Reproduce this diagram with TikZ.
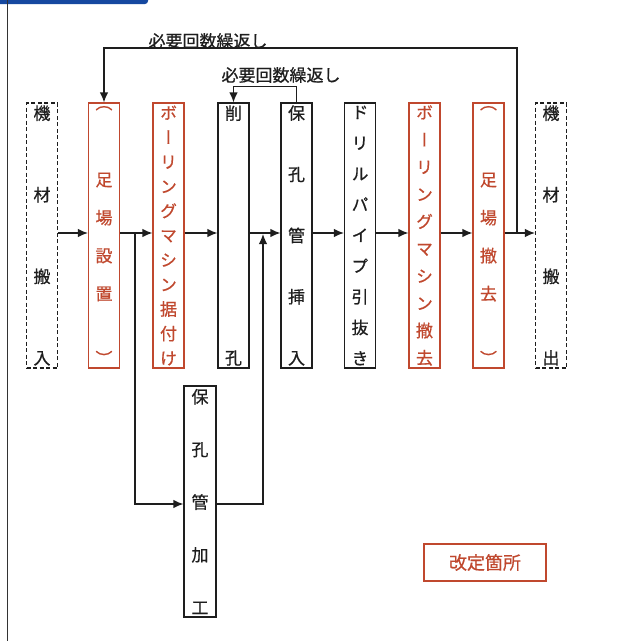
\documentclass[tikz,border=0pt]{standalone}
\usepackage{fontspec}
\setmainfont[FakeBold=0.6]{Noto Sans CJK JP}
\newfontfamily\vjp[RawFeature={+vert},FakeBold=0.6]{Noto Sans CJK JP}
\usetikzlibrary{arrows.meta}
\definecolor{rd}{RGB}{192,72,46}
\definecolor{ink}{RGB}{30,30,30}
\definecolor{barblue}{RGB}{22,72,160}
\newcommand\VF{\par\vfill}
\newcommand\vcol[2]{\parbox[c][#1][s]{28pt}{\centering\fontsize{17}{17}\selectfont\vjp #2}}
\tikzset{
  proc/.style={draw=ink, line width=1.2pt, minimum width=31pt, minimum height=265pt, inner sep=0pt, text=ink},
  rproc/.style={proc, draw=rd, text=rd},
  dproc/.style={proc, dash pattern=on 4pt off 2.5pt},
  flow/.style={draw=ink, line width=1.3pt, -{Latex[length=10pt,width=8.5pt]}},
  lbl/.style={text=ink, inner sep=0pt, font=\fontsize{17}{17}\selectfont},
}
\begin{document}
\begin{tikzpicture}[x=1pt,y=-1pt]
\useasboundingbox (0,0) rectangle (620,641);
\fill[white] (0,0) rectangle (620,641);
% header bar and left rule
\fill[barblue, rounded corners=3pt] (-6,-6) rectangle (148,4);
\draw[gray!40!black, line width=1.4pt] (7.5,0) -- (7.5,641);

% main process boxes
\node[dproc] (in) at (42,235.5) {\vcol{259pt}{機\VF 材\VF 搬\VF 入}};
\node[rproc] (ss) at (104,235.5) {\vcol{259pt}{（\par\vspace{\stretch{1.25}}足\par\vspace{21pt}場\par\vspace{21pt}設\par\vspace{21pt}置\par\vspace{\stretch{1}}）}};
\node[rproc] (bs) at (168.5,235.5) {\vcol{259pt}{ボ\VF ー\VF リ\VF ン\VF グ\VF マ\VF シ\VF ン\VF 据\VF 付\VF け}};
\node[proc] (sk) at (233.5,235.5) {\vcol{259pt}{削\VF 孔}};
\node[proc] (hi) at (296.5,235.5) {\vcol{259pt}{保\VF 孔\VF 管\VF 挿\VF 入}};
\node[proc] (dp) at (360,235.5) {\vcol{259pt}{ド\VF リ\VF ル\VF パ\VF イ\VF プ\VF 引\VF 抜\VF き}};
\node[rproc] (bt) at (424.5,235.5) {\vcol{259pt}{ボ\VF ー\VF リ\VF ン\VF グ\VF マ\VF シ\VF ン\VF 撤\VF 去}};
\node[rproc] (st) at (488.5,235.5) {\vcol{259pt}{（\par\vspace{\stretch{1.25}}足\par\vspace{21pt}場\par\vspace{21pt}撤\par\vspace{21pt}去\par\vspace{\stretch{1}}）}};
\node[dproc] (out) at (551,235.5) {\vcol{259pt}{機\VF 材\VF 搬\VF 出}};
\node[proc, minimum height=231pt, minimum width=32pt] (hk) at (200,501.5) {\vcol{225pt}{保\VF 孔\VF 管\VF 加\VF 工}};

% junction points on the main flow
\coordinate (j1) at (135,233);
\coordinate (j3) at (263,234);
\coordinate (j2) at (517,233);

% main flow arrows
\draw[flow] ([yshift=2.5pt]in.east) -- ([yshift=2.5pt]ss.west);
\draw[flow] ([yshift=2.5pt]ss.east) -- ([yshift=2.5pt]bs.west);
\draw[flow] ([yshift=2.5pt]bs.east) -- ([yshift=2.5pt]sk.west);
\draw[flow] ([yshift=2.5pt]sk.east) -- ([yshift=2.5pt]hi.west);
\draw[flow] ([yshift=2.5pt]hi.east) -- ([yshift=2.5pt]dp.west);
\draw[flow] ([yshift=2.5pt]dp.east) -- ([yshift=2.5pt]bt.west);
\draw[flow] ([yshift=2.5pt]bt.east) -- ([yshift=2.5pt]st.west);
\draw[flow] ([yshift=2.5pt]st.east) -- ([yshift=2.5pt]out.west);

% side branch through 保孔管加工
\draw[flow] (j1) |- ([yshift=-2.5pt]hk.west);
\draw[flow] ([yshift=-2.5pt]hk.east) -| (j3);

% repeat loops
\draw[flow] (hi.north) -- ++(0,-16) -| (sk.north);
\draw[flow] (j2) -- ++(0,-185) -| (ss.north);
\node[lbl] (l1) at (208,41) {必要回数繰返し};
\node[lbl] (l2) at (281,75) {必要回数繰返し};

% legend
\node[draw=rd, line width=1.2pt, text=rd, minimum width=122pt, minimum height=37pt, inner sep=0pt, font=\fontsize{18}{18}\selectfont] (lg) at (485,562.5) {改定箇所};
\end{tikzpicture}
\end{document}
